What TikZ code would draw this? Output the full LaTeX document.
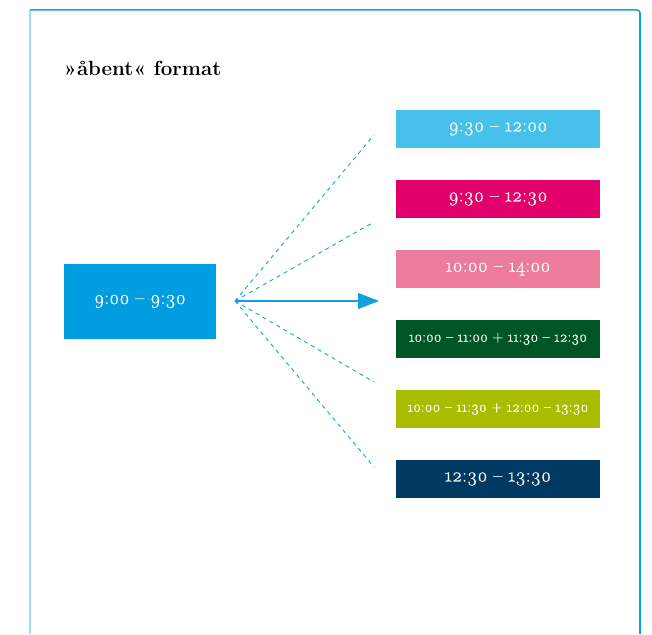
\documentclass[tikz,border=0pt]{standalone}
\usepackage{fontspec}
\setmainfont{Latin Modern Roman}[Numbers=OldStyle]
\newfontfamily\boxfont{Latin Modern Roman}[Numbers=OldStyle, FakeBold=0.6]
\usetikzlibrary{arrows.meta}
\definecolor{srcblue}{HTML}{009EE0}
\definecolor{lineblue}{HTML}{12A0E0}
\definecolor{cA}{HTML}{47C1EC}
\definecolor{cB}{HTML}{E2006A}
\definecolor{cC}{HTML}{EB7C9E}
\definecolor{cD}{HTML}{005527}
\definecolor{cE}{HTML}{A8BC00}
\definecolor{cF}{HTML}{003A62}
\definecolor{frameL}{HTML}{9ED9F4}
\definecolor{frameT}{HTML}{1AA3E0}
\definecolor{frameR}{HTML}{00A3E6}
\tikzset{
  slot/.style={fill=#1, text=white, minimum width=204pt, minimum height=38pt, inner sep=0pt, font=\boxfont\fontsize{19.5}{22}\selectfont},
  slotsmall/.style={slot=#1, font=\boxfont\fontsize{15}{18}\selectfont},
  fan/.style={draw=lineblue, line width=0.9pt, dash pattern=on 4pt off 4pt},
}
\begin{document}
\begin{tikzpicture}[x=1pt,y=-1pt]
\useasboundingbox (0,0) rectangle (652,634);
\fill[white] (0,0) rectangle (652,634);
% frame
\draw[frameL, line width=1.2pt] (30,634) -- (30,10);
\draw[frameT, line width=1.5pt] (30,10) -- (637,10) to[out=0,in=90] (640,13);
\draw[frameR, line width=1.5pt] (640,13) -- (640,634);
% title
\node[anchor=base west, inner sep=0pt, font=\fontsize{20.5}{24}\bfseries] (title) at (64,75) {»åbent« format};
% source box
\node[fill=srcblue, text=white, minimum width=152pt, minimum height=75pt, inner sep=0pt, font=\boxfont\fontsize{19.5}{22}\selectfont] (src) at (140,301.5) {9:00 – 9:30};
% target boxes
\node[slot=cA] (b1) at (498,129) {9:30 – 12:00};
\node[slot=cB] (b2) at (498,199) {9:30 – 12:30};
\node[slot=cC] (b3) at (498,269) {10:00 – 14:00};
\node[slotsmall=cD] (b4) at (498,339) {10:00 – 11:00 + 11:30 – 12:30};
\node[slotsmall=cE] (b5) at (498,409) {10:00 – 11:30 + 12:00 – 13:30};
\node[slot=cF] (b6) at (498,479) {12:30 – 13:30};
% fan
\coordinate (hub) at (235,301);
\coordinate (e1) at (374,135);
\coordinate (e2) at (374,222);
\coordinate (e3) at (374,382);
\coordinate (e4) at (374,467);
\coordinate (aend) at (379,301);
\draw[fan] (hub) -- (e1);
\draw[fan] (hub) -- (e2);
\draw[fan] (hub) -- (e3);
\draw[fan] (hub) -- (e4);
\draw[lineblue, line width=1.3pt, -{Triangle[length=21pt,width=16pt]}] (hub) -- (aend);
\end{tikzpicture}
\end{document}
